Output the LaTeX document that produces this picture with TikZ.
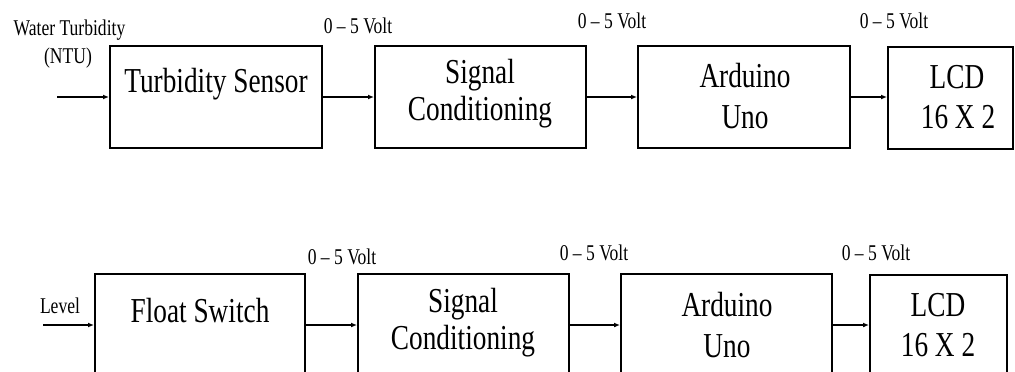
\documentclass[tikz,border=0pt]{standalone}
\usepackage{fontspec}
\setmainfont{Liberation Serif}[FakeStretch=0.78]
\usetikzlibrary{arrows.meta}
\begin{document}
\begin{tikzpicture}[x=1pt,y=-1pt,
  box/.style={draw, line width=2pt, minimum width=#1, minimum height=102pt, inner sep=0pt},
  big/.style={font=\fontsize{35}{38}\selectfont, anchor=base, inner sep=0pt},
  small/.style={font=\fontsize{22.5}{24}\selectfont, anchor=base, inner sep=0pt},
  arr/.style={line width=2pt, -{Latex[length=6pt,width=5pt]}}]
\useasboundingbox (0,0) rectangle (1015,372);
\clip (0,0) rectangle (1015,372);
% top row boxes
\node[box=212pt] (ts) at (216,97) {};
\node[box=211pt] (sc1) at (480.5,97) {};
\node[box=212pt] (au1) at (744,97) {};
\node[box=125pt] (lcd1) at (950.5,98) {};
% bottom row boxes
\node[box=210pt] (fs) at (200,325) {};
\node[box=211pt] (sc2) at (463.5,325) {};
\node[box=211pt] (au2) at (726.5,325) {};
\node[box=137pt] (lcd2) at (938.5,326) {};
% box texts
\node[big] (tst) at (216,92) {Turbidity Sensor};
\node[big] (sc1a) at (480,83) {Signal};
\node[big] (sc1b) at (480,120) {Conditioning};
\node[big] (au1a) at (745,87) {Arduino};
\node[big] (au1b) at (745,128) {Uno};
\node[big] (lcd1a) at (957,88) {LCD};
\node[big] (lcd1b) at (958,128) {16 X 2};
\node[big] (fst) at (200,322) {Float Switch};
\node[big] (sc2a) at (463,312) {Signal};
\node[big] (sc2b) at (463,349) {Conditioning};
\node[big] (au2a) at (727,316) {Arduino};
\node[big] (au2b) at (727,357) {Uno};
\node[big] (lcd2a) at (938,316) {LCD};
\node[big] (lcd2b) at (938,356) {16 X 2};
% labels
\node[small] (wt) at (69.5,35) {Water Turbidity};
\node[small] (ntu) at (68,63) {(NTU)};
\node[small] (v1) at (358,34) {0 – 5 Volt};
\node[small] (v2) at (612,28) {0 – 5 Volt};
\node[small] (v3) at (894,28) {0 – 5 Volt};
\node[small] (lvl) at (60,313) {Level};
\node[small] (v4) at (342,264) {0 – 5 Volt};
\node[small] (v5) at (594,260) {0 – 5 Volt};
\node[small] (v6) at (876,260) {0 – 5 Volt};
% inputs
\coordinate (in1) at (57,97);
\coordinate (in2) at (43,325);
% connectors
\draw[arr] (in1) -- (in1 -| ts.west);
\draw[arr] (ts.east) -- (ts.east -| sc1.west);
\draw[arr] (sc1.east) -- (sc1.east -| au1.west);
\draw[arr] (au1.east) -- (au1.east -| lcd1.west);
\draw[arr] (in2) -- (in2 -| fs.west);
\draw[arr] (fs.east) -- (fs.east -| sc2.west);
\draw[arr] (sc2.east) -- (sc2.east -| au2.west);
\draw[arr] (au2.east) -- (au2.east -| lcd2.west);
\end{tikzpicture}
\end{document}
